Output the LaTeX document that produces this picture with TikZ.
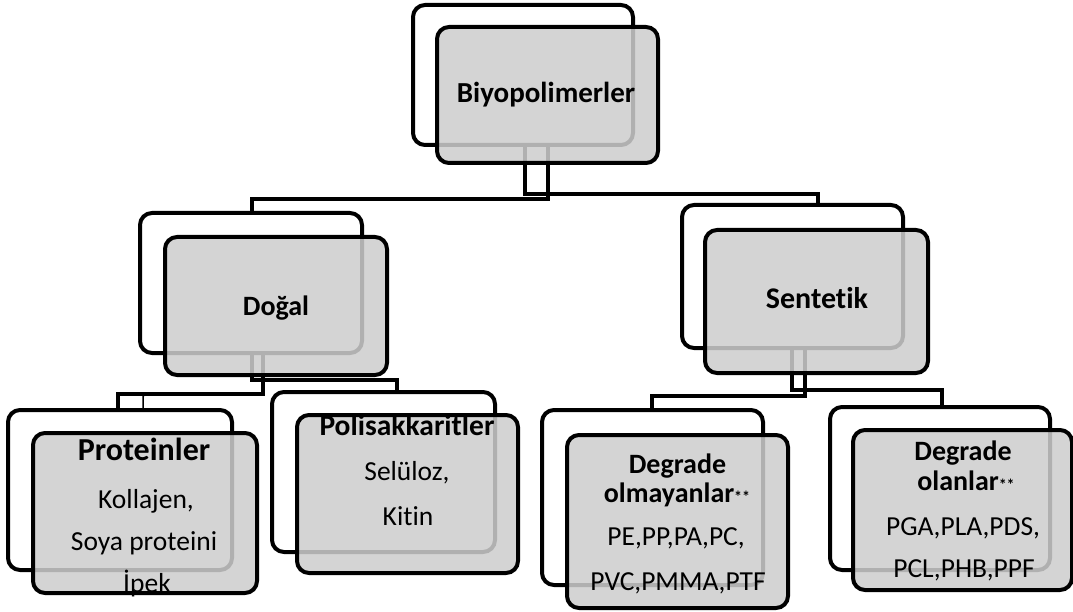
\documentclass[tikz,border=0pt]{standalone}
\usepackage{fontspec}
\setmainfont{Carlito}[Ligatures={NoCommon}]
\begin{document}
\begin{tikzpicture}[x=1pt,y=-1pt,
  boxback/.style={draw=black, line width=4pt, rounded corners=12pt, fill=white, inner sep=0pt},
  boxfront/.style={draw=black, line width=4pt, rounded corners=12pt, fill={rgb,255:red,205;green,205;blue,205}, fill opacity=0.86, inner sep=0pt},
  conn/.style={draw=black, line width=4pt},
  lbl/.style={anchor=base, inner sep=0pt, font=\fontsize{27.5}{33}\selectfont},
  lblb/.style={anchor=base, inner sep=0pt, font=\fontsize{#1}{33}\selectfont\bfseries},
  lblb/.default=27.5]
\useasboundingbox (0,0) rectangle (1073,612);

% back boxes
\node[boxback, minimum width=220pt, minimum height=140pt] (bioB) at (523,75) {};
\node[boxback, minimum width=222pt, minimum height=140pt] (dogB) at (251,283) {};
\node[boxback, minimum width=221pt, minimum height=143pt] (sentB) at (792.5,276.5) {};
\node[boxback, minimum width=224pt, minimum height=160pt] (protB) at (120,490) {};
\node[boxback, minimum width=223pt, minimum height=160pt] (polB) at (383.5,472) {};
\node[boxback, minimum width=221pt, minimum height=175pt] (olmB) at (652.5,497.5) {};
\node[boxback, minimum width=220pt, minimum height=163pt] (olaB) at (940,488.5) {};

% connectors
\draw[conn] ([xshift=2pt]bioB.south) -- ++(0,-47pt) -| ([xshift=25.5pt]sentB.north);
\draw[conn] ([xshift=25pt]bioB.south) -- ++(0,-52pt) -| ([xshift=1pt]dogB.north);
\draw[conn] ([xshift=12pt]dogB.south) -- ++(0,-39pt) -| ([xshift=-2pt]protB.north);
\draw[conn] ([xshift=1pt]dogB.south) -- ++(0,-25pt) -| ([xshift=13.5pt]polB.north);
\draw[line width=1.5pt] ([xshift=23pt]protB.north) -- ++(0,12pt) -- ++(2pt,1pt);
\draw[conn] ([xshift=-0.5pt]sentB.south) -- ++(0,-40pt) -| ([xshift=2pt]olaB.north);
\draw[conn] ([xshift=12.5pt]sentB.south) -- ++(0,-46pt) -| ([xshift=-0.5pt]olmB.north);

% front boxes
\node[boxfront, minimum width=221pt, minimum height=136pt] (bioF) at (547.5,95) {};
\node[boxfront, minimum width=222pt, minimum height=138pt] (dogF) at (276,306) {};
\node[boxfront, minimum width=223pt, minimum height=143pt] (sentF) at (816.5,301.5) {};
\node[boxfront, minimum width=224pt, minimum height=160pt] (protF) at (145,513) {};
\node[boxfront, minimum width=221pt, minimum height=158pt] (polF) at (407.5,494) {};
\node[boxfront, minimum width=221pt, minimum height=173pt] (olmF) at (677.5,521.5) {};
\node[boxfront, minimum width=219pt, minimum height=160pt] (olaF) at (962.5,510) {};

% texts
\node[lblb=29] (bioT) at (546,103) {Biyopolimerler};
\node[lblb=28] (dogT) at (276,315) {Doğal};
\node[lblb=30] (sentT) at (817,308) {Sentetik};

\node[lblb=32] (protT1) at (144,460) {Proteinler};
\node[lbl] (protT2) at (146,508) {Kollajen,};
\node[lbl] (protT3) at (144,550) {Soya proteini};
\node[lbl] (protT4) at (147,592) {İpek};

\node[lblb=29.5] (polT1) at (407,435) {Polisakkaritler};
\node[lbl] (polT2) at (407,480) {Selüloz,};
\node[lbl] (polT3) at (408,525) {Kitin};

\node[lblb=28] (olmT1) at (677.5,473) {Degrade};
\node[lblb=28] (olmT2) at (677,502) {olmayanlar{\fontsize{16}{16}\selectfont\bfseries **}};
\node[lbl] (olmT3) at (676,545) {PE,PP,PA,PC,};
\node[lbl] (olmT4) at (678,590) {PVC,PMMA,PTF};

\node[lblb=28] (olaT1) at (963,460) {Degrade};
\node[lblb=28] (olaT2) at (966,490) {olanlar{\fontsize{16}{16}\selectfont\bfseries **}};
\node[lbl] (olaT3) at (963,535) {PGA,PLA,PDS,};
\node[lbl] (olaT4) at (964,577) {PCL,PHB,PPF};
\end{tikzpicture}
\end{document}
